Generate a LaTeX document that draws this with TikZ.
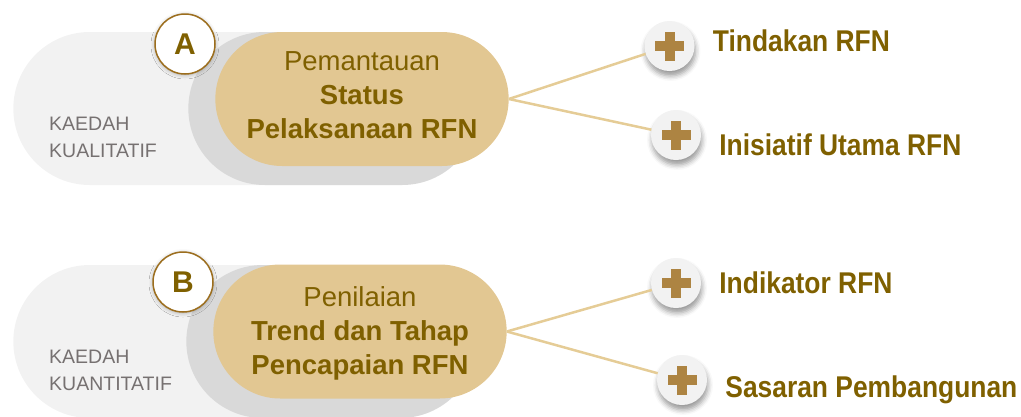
\documentclass[tikz,border=0pt]{standalone}
\usepackage{fontspec}
\setmainfont{Liberation Sans}
\newfontfamily\narrowfont[FakeStretch=0.88]{Liberation Sans}
\usetikzlibrary{positioning,shapes.misc,shadows.blur}

\definecolor{paleGrey}{HTML}{F2F2F2}
\definecolor{shadeGrey}{HTML}{D9D9D9}
\definecolor{goldFill}{HTML}{E2C792}
\definecolor{darkGold}{HTML}{7F6000}
\definecolor{ringGold}{HTML}{9C6E1E}
\definecolor{plusBrown}{HTML}{AD8442}
\definecolor{linkGold}{HTML}{E5CC96}
\definecolor{methodGrey}{HTML}{767171}

\tikzset{
  back pill/.style={rounded rectangle, fill=paleGrey, minimum height=153pt, minimum width=460pt},
  shade pill/.style={rounded rectangle, fill=shadeGrey, minimum height=153pt, minimum width=297pt},
  gold pill/.style={rounded rectangle, fill=goldFill, minimum height=134pt, minimum width=300pt},
  title text/.style={align=center, inner sep=0pt, text=darkGold, font=\fontsize{27.5}{34}\selectfont},
  method text/.style={align=left, anchor=west, inner sep=0pt, text=methodGrey, font=\fontsize{19.5}{27.5}\selectfont},
  letter/.style={circle, draw=ringGold, line width=1.5pt, fill=white, minimum size=60pt, inner sep=0pt,
    text=darkGold, font=\fontsize{30}{30}\selectfont\bfseries,
    blur shadow={shadow xshift=0pt, shadow yshift=-1pt, shadow blur radius=4pt, shadow opacity=30}},
  plus/.style={circle, fill=paleGrey, minimum size=50pt, inner sep=0pt,
    blur shadow={shadow xshift=1pt, shadow yshift=-5pt, shadow blur radius=5pt, shadow opacity=40},
    path picture={
      \fill[plusBrown] ([xshift=-14.5pt,yshift=-5pt]path picture bounding box.center) rectangle ++(29pt,10pt);
      \fill[plusBrown] ([xshift=-5pt,yshift=-14.5pt]path picture bounding box.center) rectangle ++(10pt,29pt);
    }},
  item text/.style={inner sep=0pt, text=darkGold, font=\narrowfont\bfseries\fontsize{30}{30}\selectfont},
  link/.style={draw=linkGold, line width=2.5pt}
}

\begin{document}
\begin{tikzpicture}[x=1pt, y=-1pt]
  \useasboundingbox (0,0) rectangle (1021,416);

  % A: kaedah kualitatif
  \node[back pill]  (baseA)  at (240,108.5) {};
  \node[shade pill] (shadeA) at (333.5,108.5) {};
  \node[gold pill]  (goldA)  at (362,99) {};
  \node[title text] (titleA) at ([yshift=4pt]goldA.center)
    {Pemantauan\\\textbf{Status}\\\textbf{Pelaksanaan RFN}};
  \node[letter] (markA) at (185,44) {A};
  \node[method text] (methodA) at (49,137.6) {KAEDAH\\KUALITATIF};

  \node[plus] (plusA1) at (669.5,46) {};
  \node[plus] (plusA2) at (676,135) {};
  \node[item text, right=18pt of plusA1, yshift=5pt]  (itemA1) {Tindakan RFN};
  \node[item text, right=18pt of plusA2, yshift=-10pt] (itemA2) {Inisiatif Utama RFN};

  \draw[link] (goldA.east) -- (plusA1);
  \draw[link] (goldA.east) -- (plusA2);

  % B: kaedah kuantitatif
  \node[back pill]  (baseB)  at (240,341.5) {};
  \node[shade pill] (shadeB) at (331.5,341.5) {};
  \node[gold pill]  (goldB)  at (360,331.5) {};
  \node[title text] (titleB) at ([yshift=-1.5pt]goldB.center)
    {Penilaian\\\textbf{Trend dan Tahap}\\\textbf{Pencapaian RFN}};
  \node[letter] (markB) at (183,282) {B};
  \node[method text] (methodB) at (49,370.6) {KAEDAH\\KUANTITATIF};

  \node[plus] (plusB1) at (676,283) {};
  \node[plus] (plusB2) at (682,380) {};
  \node[item text, right=18pt of plusB1]               (itemB1) {Indikator RFN};
  \node[item text, right=18pt of plusB2, yshift=-10pt] (itemB2) {Sasaran Pembangunan};

  \draw[link] (goldB.east) -- (plusB1);
  \draw[link] (goldB.east) -- (plusB2);
\end{tikzpicture}
\end{document}
